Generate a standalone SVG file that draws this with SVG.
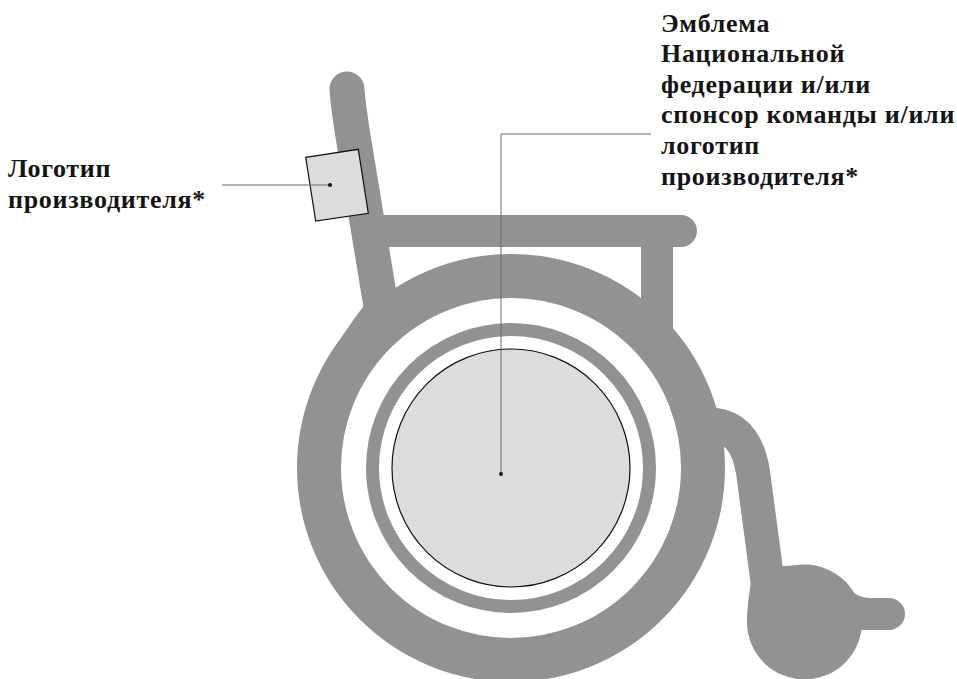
<svg xmlns="http://www.w3.org/2000/svg" width="957" height="679" viewBox="0 0 957 679">
<style>
.f{fill:none;stroke:#929292;stroke-linecap:round;stroke-linejoin:round}
.g{fill:#929292}
.t{font-family:"Liberation Serif",serif;font-weight:bold;font-size:26px;letter-spacing:.7px;fill:#151515}
.l{fill:none;stroke:#6a6a6a;stroke-width:1}
.d{fill:#dcdcdc;stroke:#111;stroke-width:1.2}
</style>
<rect width="957" height="679" fill="#fff"/>
<g id="chair">
<path class="f" stroke-width="35" d="M347 89 C348 105 350 115 352 130 L380 300"/>
<path class="f" stroke-width="32" d="M370 231 H681"/>
<path class="g" d="M641 240 H673 V345 L641 340 Z"/>
<path class="g" d="M365 288 L363 307 Q345 330 329 358 L380 340 L397 290 Z"/>
<circle cx="511" cy="468" r="192" fill="none" stroke="#929292" stroke-width="44"/>
<circle cx="511" cy="468" r="138.500" fill="none" stroke="#929292" stroke-width="13"/>
<path class="f" stroke-width="34" d="M705 424 C735 424 748 442 753 472 L768 585"/>
<circle class="g" cx="804.500" cy="622" r="57.500"/>
<path class="f" stroke-width="32" d="M835 614 H889"/>
<path class="g" d="M845 582 Q852 597 870 598 L860 612 Z"/>
<path class="g" d="M752 578 Q747 600 747 625 L790 590 Z"/>
<path class="g" d="M782 566 L812 565 L790 590 Z"/>
</g>
<g id="wheel-emblem">
<circle class="d" cx="511" cy="468" r="119"/>
</g>
<g id="logo-plate">
<path class="d" d="M305.700 157.300 L358.300 149.300 L368.300 213.300 L315.700 221 Z"/>
</g>
<g id="connectors">
<path class="l" d="M222 185 H330"/>
<path class="l" d="M651 134 H501 V474"/>
<circle cx="330" cy="185" r="2" fill="#111"/>
<circle cx="501" cy="474" r="2" fill="#111"/>
</g>
<g id="label-manufacturer">
<text class="t" x="8" y="177">Логотип</text>
<text class="t" x="8" y="208">производителя*</text>
</g>
<g id="label-emblem">
<text class="t" x="661" y="32">Эмблема</text>
<text class="t" x="661" y="62">Национальной</text>
<text class="t" x="661" y="93">федерации и/или</text>
<text class="t" x="661" y="123">спонсор команды и/или</text>
<text class="t" x="661" y="154">логотип</text>
<text class="t" x="661" y="185">производителя*</text>
</g>
</svg>
